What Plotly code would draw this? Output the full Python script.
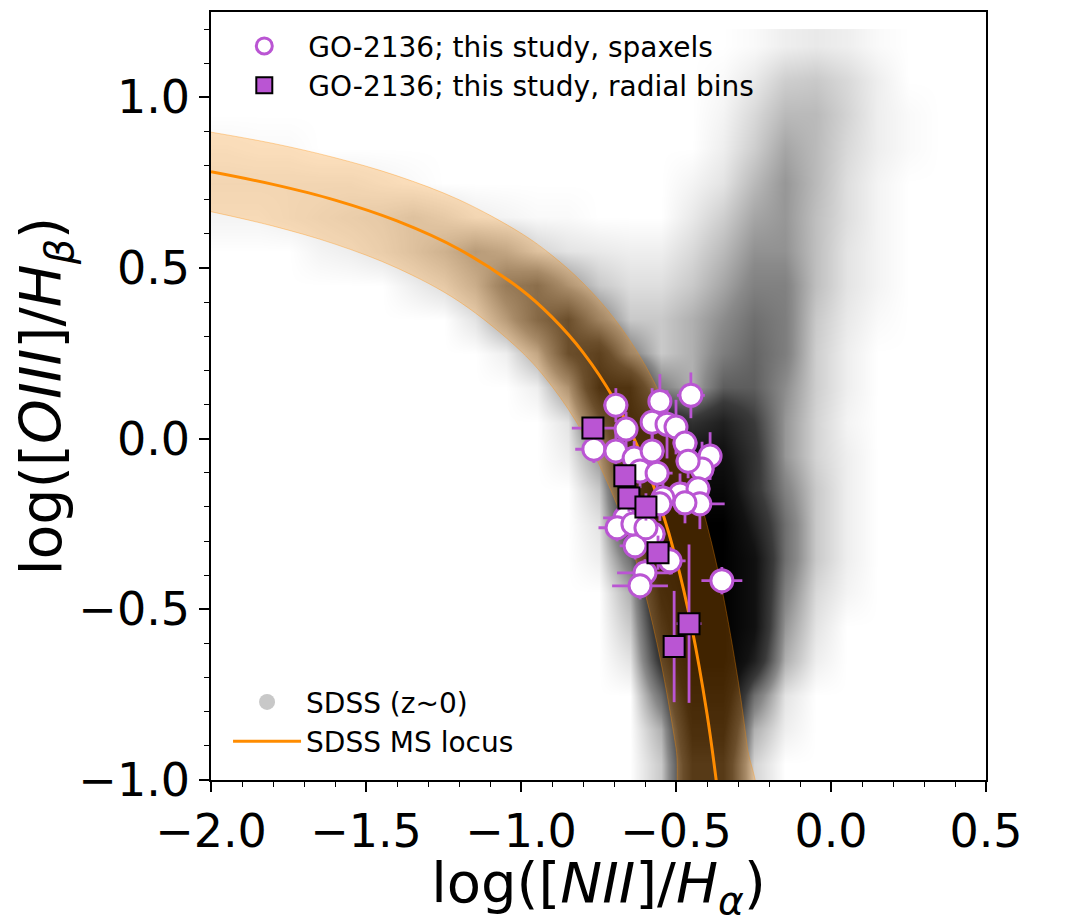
import plotly.graph_objects as go

# SDSS cloud, density on a 0.1 x 0.1 grid (cell centres)
sdss_x = [-1.95, -1.85, -1.75, -1.65, -1.55, -1.45, -1.35, -1.25, -1.15, -1.05,
          -0.95, -0.85, -0.75, -0.65, -0.55, -0.45, -0.35, -0.25, -0.15, -0.05,
          0.05, 0.15, 0.25, 0.35, 0.45]
sdss_y = [-0.95, -0.85, -0.75, -0.65, -0.55, -0.45, -0.35, -0.25, -0.15, -0.05,
          0.05, 0.15, 0.25, 0.35, 0.45, 0.55, 0.65, 0.75, 0.85, 0.95, 1.05, 1.15]
sdss_density = [
    [0]*14 + [1, 6, 6, 0.8] + [0]*7,
    [0]*14 + [1.5, 7, 7, 1.5, 0.3] + [0]*6,
    [0]*14 + [3, 8, 8, 3, 0.5] + [0]*6,
    [0]*13 + [0.5, 5, 9, 9, 6, 1.5, 0.3] + [0]*5,
    [0]*13 + [1, 6, 9, 9, 7, 2, 0.5] + [0]*5,
    [0]*13 + [1.5, 7, 9, 9, 7, 2.5, 0.7, 0.2] + [0]*4,
    [0]*12 + [0.3, 3, 8, 9, 9, 7, 3, 1, 0.3] + [0]*4,
    [0]*12 + [0.5, 5, 9, 9, 9, 6, 3, 1, 0.3] + [0]*4,
    [0]*12 + [1, 6, 9, 8, 8, 5, 2.5, 1, 0.3] + [0]*4,
    [0]*11 + [0.3, 2, 7, 8, 7, 7, 5, 2, 0.8, 0.3] + [0]*4,
    [0]*11 + [0.5, 4, 7, 6, 5, 6, 4.5, 2, 0.8, 0.2] + [0]*4,
    [0]*10 + [0.3, 2, 6.5, 6.5, 2.5, 1.5, 3.5, 3.5, 2.2, 0.9, 0.3] + [0]*4,
    [0]*9 + [0.3, 1.5, 4.5, 5.5, 2.5, 1, 1.5, 2.6, 3.3, 2.6, 0.9, 0.3] + [0]*4,
    [0]*8 + [0.5, 1.8, 3.5, 4.5, 2.5, 1, 1, 1.5, 2.2, 3, 2.6, 1, 0.4, 0.1] + [0]*3,
    [0]*6 + [0.3, 0.6, 1.3, 2.8, 3.3, 2, 1, 0.6, 0.6, 1, 1.7, 2.5, 2.5, 1.2, 0.5, 0.2] + [0]*3,
    [0, 0, 0, 0.2, 0.3, 0.5, 0.8, 1.2, 1.8, 1.5, 0.8, 0.5, 0.4, 0.3, 0.3, 0.7,
     1.3, 2.1, 2.1, 1.2, 0.5, 0.2, 0, 0, 0],
    [0.2, 0.2, 0.3, 0.4, 0.5, 0.6, 0.8, 0.6, 0.3, 0.2, 0.1, 0.1, 0, 0, 0, 0.4,
     0.9, 1.7, 2, 1.2, 0.6, 0.2, 0, 0, 0],
    [0.3, 0.3, 0.3, 0.3, 0.3, 0.2, 0.1, 0, 0, 0, 0, 0, 0, 0, 0, 0.2,
     0.5, 1.3, 2, 1.3, 0.6, 0.2, 0, 0, 0],
    [0.15, 0.1, 0.1] + [0]*13 + [0.3, 0.9, 1.7, 1.3, 0.7, 0.3, 0.1, 0, 0],
    [0]*16 + [0.2, 0.7, 1.3, 1.3, 0.8, 0.3, 0.1, 0, 0],
    [0]*16 + [0.1, 0.4, 0.9, 1, 0.7, 0.3, 0, 0, 0],
    [0]*17 + [0.1, 0.3, 0.4, 0.3, 0.1, 0, 0, 0],
]

# SDSS MS locus and its band
locus_x = [-2.0, -1.8, -1.6, -1.4, -1.2, -1.0, -0.9, -0.8, -0.7, -0.6,
           -0.55, -0.5, -0.45, -0.4, -0.37, -0.35]
locus_y = [0.782, 0.745, 0.699, 0.638, 0.555, 0.437, 0.356, 0.253, 0.116, -0.073,
           -0.198, -0.352, -0.549, -0.806, -1.003, -1.159]
band_hi_x = [-2.0, -1.8, -1.6, -1.4, -1.2, -1.0, -0.9, -0.8, -0.7, -0.6,
             -0.5, -0.45, -0.4, -0.35, -0.3, -0.27, -0.25]
band_hi_y = [0.898, 0.865, 0.823, 0.770, 0.700, 0.602, 0.537, 0.456, 0.353, 0.216,
             0.027, -0.098, -0.252, -0.449, -0.706, -0.903, -1.059]
band_lo_x = [-2.0, -1.8, -1.6, -1.4, -1.2, -1.0, -0.9, -0.8, -0.7, -0.65,
             -0.6, -0.55, -0.5, -0.47]
band_lo_y = [0.665, 0.623, 0.570, 0.500, 0.402, 0.256, 0.153, 0.016, -0.173, -0.298,
             -0.452, -0.649, -0.906, -1.103]

# GO-2136 spaxels
spx_x = [-0.694, -0.552, -0.452, -0.661, -0.577, -0.529, -0.500, -0.765, -0.694, -0.635,
         -0.577, -0.471, -0.390, -0.416, -0.461, -0.616, -0.561, -0.487, -0.429, -0.423,
         -0.471, -0.542, -0.552, -0.665, -0.690, -0.632, -0.519, -0.600, -0.616, -0.352,
         -0.574, -0.639, -0.597]
spx_y = [0.098, 0.109, 0.127, 0.028, 0.048, 0.042, 0.034, -0.031, -0.036, -0.057,
         -0.036, -0.013, -0.051, -0.089, -0.066, -0.095, -0.101, -0.162, -0.147, -0.191,
         -0.188, -0.174, -0.191, -0.232, -0.261, -0.314, -0.358, -0.393, -0.431, -0.416,
         -0.279, -0.250, -0.261]
spx_xerr = [0.04, 0.03, 0.045, 0.03, 0.03, 0.04, 0.03, 0.06, 0.04, 0.05,
            0.04, 0.04, 0.03, 0.04, 0.04, 0.05, 0.05, 0.05, 0.04, 0.08,
            0.05, 0.05, 0.05, 0.07, 0.06, 0.05, 0.05, 0.09, 0.09, 0.066,
            0.04, 0.05, 0.04]
spx_yerr = [0.05, 0.08, 0.067, 0.05, 0.1, 0.1, 0.08, 0.04, 0.06, 0.05,
            0.06, 0.06, 0.07, 0.08, 0.05, 0.05, 0.06, 0.06, 0.06, 0.074,
            0.06, 0.05, 0.05, 0.04, 0.04, 0.04, 0.04, 0.04, 0.04, 0.04,
            0.04, 0.04, 0.04]

# GO-2136 radial bins
rb_x = [-0.768, -0.665, -0.652, -0.597, -0.558, -0.458, -0.506]
rb_y = [0.031, -0.109, -0.174, -0.200, -0.334, -0.542, -0.609]
rb_xerr = [0.068, 0.03, 0.03, 0.03, 0.03, 0.04, 0.02]
rb_yerr = [0.03, 0.03, 0.04, 0.04, 0.05, 0.232, 0.163]

purple = "#BA55D3"
orange = "#FF8C00"

data = [
    go.Heatmap(
        x=sdss_x, y=sdss_y, z=sdss_density,
        zmin=0, zmax=9, zsmooth="best", showscale=False, hoverinfo="skip",
        colorscale=[[0, "#ffffff"], [0.03, "#f0f0f0"], [0.1, "#cecece"],
                    [0.25, "#8a8a8a"], [0.5, "#3a3a3a"], [0.75, "#121212"],
                    [1, "#000000"]],
    ),
    go.Scatter(
        x=band_hi_x + band_lo_x[::-1], y=band_hi_y + band_lo_y[::-1],
        mode="lines", fill="toself", fillcolor="rgba(255,140,0,0.25)",
        line=dict(color="rgba(255,140,0,0.35)", width=1, shape="spline"),
        showlegend=False, hoverinfo="skip",
    ),
    go.Scatter(
        x=[None], y=[None], mode="markers", name="SDSS (z~0)",
        marker=dict(color="#c8c8c8", size=16),
        legend="legend2", legendgroup="a",
    ),
    go.Scatter(
        x=locus_x, y=locus_y, mode="lines", name="SDSS MS locus",
        line=dict(color=orange, width=3, shape="spline"),
        legend="legend2", legendgroup="b",
    ),
    go.Scatter(
        x=spx_x, y=spx_y, mode="markers", name="GO-2136; this study, spaxels",
        marker=dict(symbol="circle", size=22, color="white",
                    line=dict(color=purple, width=3)),
        error_x=dict(array=spx_xerr, color=purple, thickness=2.8, width=0),
        error_y=dict(array=spx_yerr, color=purple, thickness=2.8, width=0),
        legendgroup="c",
    ),
    go.Scatter(
        x=rb_x, y=rb_y, mode="markers", name="GO-2136; this study, radial bins",
        marker=dict(symbol="square", size=21, color=purple,
                    line=dict(color="black", width=2)),
        error_x=dict(array=rb_xerr, color=purple, thickness=2.8, width=0),
        error_y=dict(array=rb_yerr, color=purple, thickness=2.8, width=0),
        legendgroup="d",
    ),
]

axis_common = dict(
    showline=True, linecolor="black", linewidth=1.5, mirror=True,
    ticks="outside", ticklen=10, tickwidth=1.5, tickcolor="black",
    showgrid=False, zeroline=False, tickformat=".1f",
    tickfont=dict(size=46, color="black"),
    minor=dict(dtick=0.1, ticks="outside", ticklen=5, tickwidth=1, tickcolor="black"),
)

# the page adds an 8px body margin, so the margins are shifted by 8px
layout = go.Layout(
    width=1085, height=915,
    margin=dict(l=203, r=107, t=2, b=143),
    paper_bgcolor="white", plot_bgcolor="white",
    font=dict(family="DejaVu Sans", color="black"),
    xaxis=dict(axis_common, range=[-2.0, 0.5], tick0=0, dtick=0.5,
               title=dict(text="log([<i>NII</i>]/<i>H</i><sub><i>α</i></sub>)",
                          font=dict(size=56), standoff=2)),
    yaxis=dict(axis_common, range=[-1.0, 1.25], tick0=0, dtick=0.5,
               title=dict(text="log([<i>OIII</i>]/<i>H</i><sub><i>β</i></sub>)",
                          font=dict(size=57), standoff=6)),
    legend=dict(x=0.012, y=0.988, xanchor="left", yanchor="top",
                bgcolor="rgba(0,0,0,0)", font=dict(size=28),
                tracegroupgap=6, itemwidth=78, traceorder="normal"),
    legend2=dict(x=0.022, y=0.018, xanchor="left", yanchor="bottom",
                 bgcolor="rgba(0,0,0,0)", font=dict(size=28),
                 tracegroupgap=6, itemwidth=68, traceorder="normal"),
    showlegend=True,
)

fig = go.Figure(data=data, layout=layout)
fig.write_html("out.html")
